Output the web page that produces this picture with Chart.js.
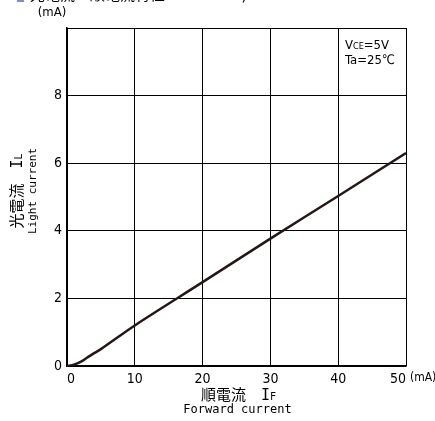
<!DOCTYPE html>
<html>
<head>
<meta charset="utf-8">
<script src="https://cdn.jsdelivr.net/npm/chart.js@4/dist/chart.umd.min.js"></script>
<style>
  html, body { margin: 0; padding: 0; background: #fff; overflow: hidden; }
  #wrap { width: 435px; height: 421px; }
</style>
</head>
<body>
<div id="wrap"><canvas id="chart" width="435" height="421"></canvas></div>
<script>
// forward current IF (mA) vs light current IL (mA)
const forwardCurrent = [0, 1, 2, 3, 4, 5, 10, 20, 30, 40, 50];
const lightCurrent = [0, 0.04, 0.12, 0.25, 0.38, 0.5, 1.2, 2.48, 3.77, 5.03, 6.3];
const xTicks = [0, 10, 20, 30, 40, 50];
const yTicks = [0, 2, 4, 6, 8, 10];

const FONT = '"DejaVu Sans Mono", "Noto Sans CJK JP", monospace';
const NARROW = '"Liberation Sans Narrow", "DejaVu Sans Condensed", "Noto Sans CJK JP", sans-serif';

// draws text with a small subscript after it
function subText(ctx, main, sub, x, y, size, align, fam, rest, subSize) {
  fam = fam || FONT;
  rest = rest || '';
  subSize = subSize || size - 4;
  ctx.font = size + 'px ' + fam;
  const w1 = ctx.measureText(main).width;
  const w3 = ctx.measureText(rest).width;
  ctx.font = subSize + 'px ' + fam;
  const w2 = ctx.measureText(sub).width;
  let start = x;
  if (align === 'center') start = x - (w1 + w2 + w3) / 2;
  ctx.textAlign = 'left';
  ctx.font = size + 'px ' + fam;
  ctx.fillText(main, start, y);
  ctx.fillText(rest, start + w1 + w2, y);
  ctx.font = subSize + 'px ' + fam;
  ctx.fillText(sub, start + w1, y + 1);
}

const labelsPlugin = {
  id: 'labels',
  afterDraw(chart) {
    const ctx = chart.ctx;
    const area = chart.chartArea;
    ctx.save();
    ctx.fillStyle = '#000';
    ctx.textBaseline = 'middle';

    // cut-off heading at the very top
    ctx.fillStyle = '#7f8fc8';
    ctx.fillRect(17, 0, 7, 2);
    ctx.fillStyle = '#000';
    ctx.font = '15px ' + FONT;
    ctx.textAlign = 'left';
    ctx.fillText('光電流－順電流特性　　　　　)', 30, -4);

    // units
    ctx.font = '13px ' + NARROW;
    ctx.textAlign = 'center';
    ctx.fillText('(mA)', 52, 13);
    ctx.font = '12px ' + NARROW;
    ctx.textAlign = 'left';
    ctx.fillText('(mA)', 410, 378);

    // x title
    subText(ctx, '順電流　I', 'F', (area.left + area.right) / 2 + 2, 396, 15, 'center', FONT, '', 10);
    ctx.font = '12px ' + FONT;
    ctx.textAlign = 'center';
    ctx.fillText('Forward current', (area.left + area.right) / 2 + 1, 410);

    // y title
    ctx.save();
    ctx.translate(18, 191);
    ctx.rotate(-Math.PI / 2);
    subText(ctx, '光電流　I', 'L', 0, 0, 15, 'center', FONT, '', 10);
    ctx.restore();
    ctx.save();
    ctx.translate(33, 191);
    ctx.rotate(-Math.PI / 2);
    ctx.font = '11px ' + FONT;
    ctx.textAlign = 'center';
    ctx.fillText('Light current', 0, 0);
    ctx.restore();

    // conditions
    subText(ctx, 'V', 'CE', 367, 46, 13, 'center', NARROW, '=5V');
    ctx.font = '13px ' + NARROW;
    ctx.textAlign = 'center';
    ctx.fillText('Ta=25℃', 370, 61);
    ctx.restore();
  }
};

new Chart(document.getElementById('chart'), {
  type: 'line',
  data: {
    datasets: [{
      data: forwardCurrent.map((x, i) => ({ x: x, y: lightCurrent[i] })),
      borderColor: '#231815',
      borderWidth: 2.5,
      pointRadius: 0,
      tension: 0.3,
      fill: false
    }]
  },
  options: {
    responsive: false,
    animation: false,
    layout: { padding: { left: 0, right: 29, top: 28, bottom: 0 } },
    plugins: { legend: { display: false }, tooltip: { enabled: false } },
    scales: {
      x: {
        type: 'linear',
        min: 0,
        max: 50,
        afterBuildTicks: s => { s.ticks = xTicks.map(v => ({ value: v })); },
        afterFit: s => { s.height = 55; },
        grid: { color: '#000', lineWidth: 1, drawTicks: false },
        border: { color: '#000', width: 1.5 },
        ticks: { color: '#000', padding: 5, align: 'inner', font: { family: NARROW, size: 14 }, maxRotation: 0 }
      },
      y: {
        type: 'linear',
        min: 0,
        max: 10,
        afterBuildTicks: s => { s.ticks = yTicks.map(v => ({ value: v })); },
        afterFit: s => { s.width = 67; },
        grid: { color: '#000', lineWidth: 1, drawTicks: false },
        border: { color: '#000', width: 1.5 },
        ticks: {
          color: '#000', padding: 5, font: { family: NARROW, size: 14 },
          callback: v => (v === 10 ? '' : v)
        }
      }
    }
  },
  plugins: [labelsPlugin]
});
</script>
</body>
</html>
